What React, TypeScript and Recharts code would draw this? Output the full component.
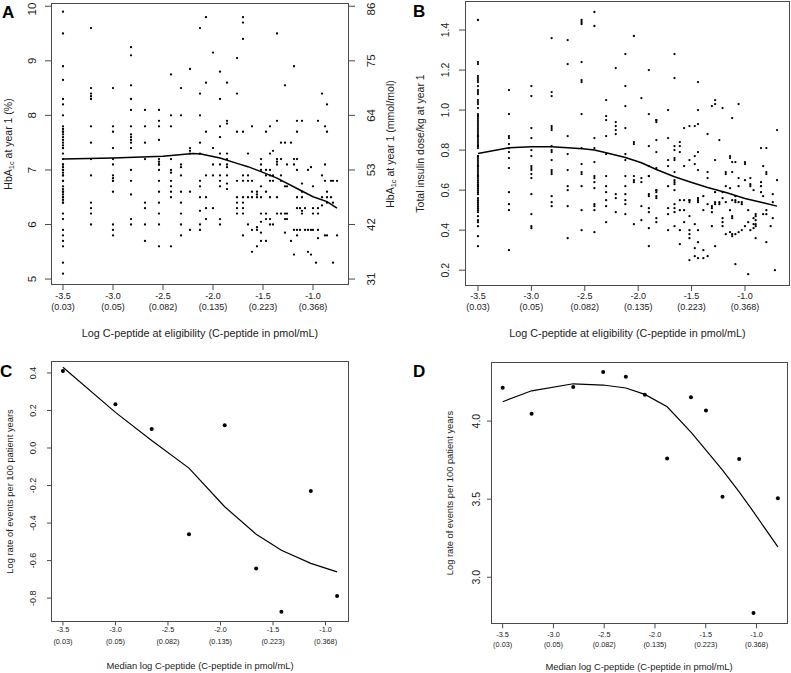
import React from 'react';
import { ComposedChart, Scatter, Line, XAxis, YAxis, Label } from 'recharts';

const FONT = '"Liberation Sans", Arial, Helvetica, sans-serif';
const BOX = '#4a4a4a';
const INK = '#222';

// shared x axis: log C-peptide, with the C-peptide value printed under each tick
const logTicks = [-3.5, -3.0, -2.5, -2.0, -1.5, -1.0];
const cpepLabels = ['0.03', '0.05', '0.082', '0.135', '0.223', '0.368'];

// A: HbA1c at year 1 (%), one list of values per distinct log C-peptide
const hbaX = [-3.5, -3.22, -3.0, -2.82, -2.68, -2.54, -2.42, -2.32, -2.23, -2.13, -2.07, -2.0, -1.93, -1.86, -1.76, -1.7, -1.65, -1.61, -1.56, -1.52, -1.47, -1.43, -1.4, -1.36, -1.32, -1.28, -1.26, -1.22, -1.19, -1.16, -1.13, -1.11, -1.08, -1.05, -1.02, -1.0, -0.97, -0.95, -0.91, -0.88, -0.86, -0.82, -0.8, -0.76];
const hbaY = [
  [9.9, 9.5, 8.9, 8.65, 8.3, 8.2, 8.0, 7.8, 7.75, 7.7, 7.7, 7.65, 7.6, 7.55, 7.5, 7.45, 7.4, 7.4, 7.3, 7.2, 7.1, 7.1, 7.05, 7.0, 7.0, 6.95, 6.9, 6.9, 6.8, 6.8, 6.7, 6.65, 6.6, 6.6, 6.55, 6.5, 6.5, 6.45, 6.4, 6.4, 6.2, 6.1, 5.9, 5.8, 5.7, 5.6, 5.3, 5.1],
  [9.6, 8.5, 8.4, 8.35, 8.3, 7.8, 7.5, 7.2, 6.9, 6.4, 6.3, 6.2, 6.0],
  [8.5, 7.8, 7.7, 7.4, 7.2, 7.1, 6.9, 6.85, 6.8, 6.8, 6.6, 6.0, 5.9, 5.8],
  [9.25, 9.1, 8.55, 8.3, 8.1, 7.8, 7.65, 7.6, 7.55, 7.5, 7.4, 7.0, 6.8, 6.55, 6.1, 6.0],
  [8.1, 7.8, 7.5, 7.2, 6.4, 6.3, 6.0, 5.7],
  [8.1, 7.9, 7.8, 7.55, 7.2, 7.15, 7.1, 7.1, 7.0, 6.8, 6.6, 6.4, 6.2, 6.0, 5.6],
  [8.75, 8.0, 7.8, 7.2, 7.0, 6.95, 6.8, 6.7, 6.6, 6.5, 5.6],
  [8.5, 8.0, 7.1, 7.05, 6.9, 6.6, 6.4, 6.2, 6.0, 5.8],
  [8.85, 7.4, 7.35, 7.3, 6.6, 5.9],
  [9.6, 8.4, 8.0, 7.5, 7.3, 6.8, 6.7, 6.5, 6.25, 6.0, 5.9],
  [9.8, 8.6, 7.7, 6.9, 6.5, 6.3, 6.1],
  [9.15, 7.4, 7.1, 6.9, 6.3],
  [8.8, 8.3, 7.8, 7.6, 7.3, 7.1, 6.9, 6.8, 6.7, 6.1, 6.0],
  [8.6, 7.9, 7.85, 7.3, 7.2, 7.1, 7.05, 6.9, 6.75, 6.65],
  [9.05, 8.4, 7.7, 6.8, 6.5, 6.4, 6.3, 6.2],
  [9.8, 9.7, 9.4, 7.7, 6.9, 6.8, 6.5, 6.4, 6.3, 6.2, 5.8],
  [7.3, 6.9, 6.8, 6.5, 6.0],
  [7.8, 6.8, 6.6, 6.5, 5.9, 5.5],
  [6.6, 6.55, 6.5, 5.95, 5.9, 5.6],
  [7.2, 7.1, 7.0, 6.7, 6.5, 6.2, 6.05, 5.85, 5.7],
  [7.7, 7.0, 6.9, 6.6, 6.2, 6.1, 5.7],
  [7.8, 7.3, 7.0, 6.9, 6.8, 6.5, 6.1, 6.0],
  [7.35, 6.9, 6.8, 6.0],
  [9.5, 7.9, 7.2, 7.15, 7.1, 6.5, 6.2],
  [7.5, 7.2, 6.9, 6.8, 6.2],
  [8.55, 7.5, 6.7, 6.2, 6.1, 5.85],
  [7.1, 6.7, 6.2, 6.1],
  [7.5, 5.7],
  [8.9, 7.2, 7.1, 5.9, 5.45],
  [7.9, 7.7, 7.2, 7.0, 6.5, 6.3, 5.9, 5.8],
  [6.3, 5.9],
  [7.9, 6.75, 6.6, 6.5, 6.25, 6.2],
  [6.3, 5.9],
  [7.0, 5.9, 5.5],
  [7.05, 5.9, 5.45],
  [6.7, 6.3, 6.2, 5.9],
  [5.3],
  [7.9, 6.3, 6.2, 5.9, 5.75],
  [8.4, 6.9, 6.5, 6.35],
  [7.8, 7.1, 6.8, 5.8],
  [8.2, 7.7, 6.6, 6.5, 6.4, 5.8],
  [6.8, 6.5],
  [6.8, 6.4, 5.3],
  [6.8, 5.8],
];
const hbaFitX = [-3.5, -3.0, -2.5, -2.2, -2.12, -1.93, -1.76, -1.65, -1.52, -1.36, -1.16, -1.0, -0.86, -0.76];
const hbaFitY = [7.2, 7.22, 7.25, 7.3, 7.29, 7.22, 7.12, 7.06, 6.97, 6.85, 6.66, 6.51, 6.42, 6.3];
const hbaTicks = [5, 6, 7, 8, 9, 10];
const mmolLabels = ['31', '42', '53', '64', '75', '86'];

// B: total insulin dose/kg at year 1
const insX = [-3.5, -3.21, -3.0, -2.81, -2.66, -2.53, -2.41, -2.3, -2.21, -2.12, -2.04, -1.97, -1.9, -1.83, -1.72, -1.66, -1.61, -1.57, -1.52, -1.47, -1.44, -1.39, -1.35, -1.31, -1.28, -1.24, -1.21, -1.18, -1.14, -1.12, -1.09, -1.06, -1.03, -1.0, -0.97, -0.95, -0.92, -0.9, -0.85, -0.83, -0.8, -0.76, -0.74, -0.72, -0.7];
const insY = [
  [1.45, 1.24, 1.23, 1.17, 1.16, 1.15, 1.14, 1.12, 1.1, 1.09, 1.08, 1.05, 1.04, 1.03, 1.01, 0.98, 0.97, 0.97, 0.96, 0.95, 0.94, 0.93, 0.92, 0.91, 0.9, 0.89, 0.88, 0.87, 0.87, 0.86, 0.85, 0.84, 0.83, 0.82, 0.82, 0.81, 0.77, 0.77, 0.76, 0.75, 0.74, 0.73, 0.72, 0.72, 0.71, 0.7, 0.69, 0.68, 0.67, 0.67, 0.66, 0.65, 0.64, 0.63, 0.62, 0.62, 0.61, 0.6, 0.59, 0.58, 0.56, 0.55, 0.54, 0.53, 0.52, 0.51, 0.5, 0.49, 0.47, 0.45, 0.44, 0.42, 0.37, 0.32],
  [1.1, 0.98, 0.87, 0.86, 0.83, 0.81, 0.79, 0.76, 0.71, 0.59, 0.53, 0.5, 0.3],
  [1.12, 1.07, 0.91, 0.86, 0.8, 0.77, 0.72, 0.71, 0.7, 0.68, 0.66, 0.58, 0.48, 0.42, 0.41],
  [1.36, 1.09, 1.07, 0.92, 0.91, 0.9, 0.82, 0.8, 0.79, 0.75, 0.7, 0.69, 0.68, 0.57, 0.54, 0.52],
  [1.35, 1.23, 0.87, 0.78, 0.7, 0.62, 0.6, 0.52, 0.36],
  [1.45, 1.44, 1.43, 1.24, 1.15, 1.14, 0.98, 0.81, 0.73, 0.69, 0.68, 0.62, 0.5, 0.4],
  [1.49, 1.42, 0.86, 0.81, 0.74, 0.67, 0.66, 0.64, 0.61, 0.53, 0.52, 0.5, 0.39],
  [1.05, 0.97, 0.95, 0.87, 0.78, 0.67, 0.62, 0.59, 0.55, 0.52, 0.44],
  [1.21, 0.94, 0.92, 0.9, 0.88, 0.58, 0.56, 0.49],
  [1.28, 1.12, 1.02, 0.91, 0.78, 0.75, 0.67, 0.62, 0.58, 0.55, 0.53, 0.48],
  [1.37, 0.84, 0.83, 0.67, 0.65, 0.64, 0.43],
  [1.06, 0.66, 0.64, 0.52, 0.45],
  [1.2, 0.98, 0.82, 0.72, 0.67, 0.67, 0.58, 0.57, 0.51, 0.49, 0.41, 0.32],
  [0.95, 0.95, 0.94, 0.85, 0.79, 0.71, 0.6, 0.6, 0.59, 0.57, 0.56, 0.46, 0.44],
  [1.0, 0.86, 0.75, 0.72, 0.62, 0.51, 0.48, 0.4],
  [1.28, 1.16, 0.82, 0.8, 0.76, 0.75, 0.69, 0.65, 0.64, 0.63, 0.6, 0.53, 0.51, 0.49, 0.42],
  [0.84, 0.82, 0.79, 0.55, 0.5, 0.4, 0.33],
  [0.91, 0.72, 0.55, 0.5, 0.44],
  [0.92, 0.75, 0.55, 0.55, 0.54, 0.47, 0.4, 0.38, 0.36, 0.25],
  [0.92, 0.77, 0.73, 0.43, 0.31, 0.27],
  [1.14, 1.0, 0.93, 0.79, 0.7, 0.56, 0.55, 0.54, 0.4, 0.34, 0.26],
  [0.57, 0.5, 0.3, 0.26],
  [0.88, 0.69, 0.66, 0.53, 0.27],
  [1.02, 0.52, 0.51, 0.49, 0.42],
  [1.05, 1.03, 0.75, 0.59, 0.54, 0.53, 0.32],
  [0.85, 0.54, 0.53],
  [1.01, 0.59, 0.56, 0.46, 0.44, 0.42],
  [0.69, 0.68, 0.62, 0.54, 0.38],
  [0.77, 0.76, 0.61, 0.5, 0.39],
  [0.96, 0.74, 0.69, 0.55, 0.47, 0.46, 0.38, 0.37],
  [0.74, 0.57, 0.55, 0.54, 0.38, 0.23],
  [1.03, 0.66, 0.62, 0.54, 0.39],
  [0.54, 0.53, 0.4],
  [0.74, 0.73, 0.65, 0.42],
  [0.5, 0.44, 0.18],
  [0.66, 0.63, 0.62, 0.4],
  [0.6, 0.46, 0.43, 0.41],
  [0.48, 0.47, 0.45, 0.43, 0.42, 0.36],
  [0.81, 0.64, 0.62, 0.59],
  [0.72, 0.57, 0.48],
  [0.81, 0.69, 0.68, 0.5, 0.48, 0.34],
  [0.42],
  [0.58, 0.54, 0.46],
  [0.2],
  [0.9, 0.65],
];
const insFitX = [-3.5, -3.21, -3.0, -2.81, -2.66, -2.52, -2.41, -2.3, -2.12, -1.97, -1.83, -1.66, -1.52, -1.35, -1.17, -1.0, -0.83, -0.7];
const insFitY = [0.783, 0.812, 0.817, 0.817, 0.812, 0.807, 0.8, 0.787, 0.763, 0.737, 0.703, 0.667, 0.642, 0.613, 0.587, 0.558, 0.537, 0.52];
const insTicks = [0.2, 0.4, 0.6, 0.8, 1.0, 1.2, 1.4];

// C: log rate of events per 100 patient years by median log C-peptide
const cMedX = [-3.5, -3.0, -2.655, -2.3, -1.96, -1.66, -1.42, -1.14, -0.89];
const cRate = [0.41, 0.233, 0.101, -0.459, 0.121, -0.642, -0.873, -0.229, -0.789];
const cFit = [0.43, 0.19, 0.04, -0.107, -0.313, -0.46, -0.545, -0.615, -0.66];
const cTicks = [-0.8, -0.6, -0.4, -0.2, 0.0, 0.2, 0.4];

// D: same measure, second event type
const dMedX = [-3.5, -3.215, -2.805, -2.51, -2.287, -2.1, -1.88, -1.646, -1.498, -1.335, -1.171, -1.03, -0.79];
const dRate = [4.213, 4.047, 4.218, 4.314, 4.284, 4.169, 3.761, 4.152, 4.068, 3.515, 3.758, 2.771, 3.506];
const dFit = [4.124, 4.194, 4.239, 4.231, 4.212, 4.171, 4.092, 3.93, 3.814, 3.686, 3.547, 3.419, 3.194];
const dTicks = [3.0, 3.5, 4.0];

const toPoints = (xs: number[], ys: number[][]) => xs.flatMap((x, i) => ys[i].map((y) => ({ x, y })));
const toLine = (xs: number[], ys: number[]) => xs.map((x, i) => ({ x, y: ys[i] }));

const dot = (r: number) => (props: any) => <circle cx={props.cx} cy={props.cy} r={r} fill="#000" />;

// two-line tick: log value, then C-peptide in brackets
const xTick = (base: number, gap: number, fs: number) => (props: any) => {
  const { x, payload } = props;
  const i = logTicks.indexOf(payload.value);
  return (
    <text textAnchor="middle" fontSize={fs} fontFamily={FONT} fill={INK}>
      <tspan x={x} y={base}>{payload.value.toFixed(1)}</tspan>
      <tspan x={x} y={base + gap}>({cpepLabels[i]})</tspan>
    </text>
  );
};

// R style y labels, turned to read upwards
const yTick = (cx: number, fs: number, fmt: (v: number) => string) => (props: any) => {
  const { y, payload } = props;
  return (
    <text x={cx} y={y} transform={`rotate(-90 ${cx} ${y})`} textAnchor="middle" dominantBaseline="central" fontSize={fs} fontFamily={FONT} fill={INK}>
      {fmt(payload.value)}
    </text>
  );
};

const Title = ({ x, y, fs, vertical, children }: any) => (
  <text x={x} y={y} transform={vertical ? `rotate(-90 ${x} ${y})` : undefined} textAnchor="middle" dominantBaseline="central" fontSize={fs} fontFamily={FONT} fill={INK}>
    {children}
  </text>
);

const HbA = ({ tail }: { tail: string }) => (
  <>
    HbA<tspan fontSize={7.5} dy={2.5}>1c</tspan>
    <tspan dy={-2.5}>{tail}</tspan>
  </>
);

const fixed = (d: number) => (v: number) => v.toFixed(d);

// R's bty="o" box round each plot area
const Box = ({ left, top, width, height }: { left: number; top: number; width: number; height: number }) => (
  <div style={{ position: 'absolute', left: left - 0.75, top: top - 0.75, width: width + 1.5, height: height + 1.5, border: `1.5px solid ${BOX}`, boxSizing: 'border-box', pointerEvents: 'none' }} />
);

function PanelA() {
  const xDom: [number, number] = [-3.61, -0.65];
  const yDom: [number, number] = [4.91, 10.05];
  return (
    <ComposedChart width={400} height={345} margin={{ top: 3.5, right: 0, bottom: 0, left: 0 }}>
      <XAxis dataKey="x" type="number" domain={xDom} ticks={logTicks} height={61} axisLine={false} tickSize={6} tickLine={{ stroke: BOX }} tick={xTick(299, 10.6, 9)}>
        <Label content={() => <Title x={200} y={333} fs={10.8}>Log C-peptide at eligibility (C-peptide in pmol/mL)</Title>} />
      </XAxis>
      <YAxis yAxisId="l" type="number" domain={yDom} ticks={hbaTicks} width={52} axisLine={false} tickSize={7} tickLine={{ stroke: BOX }} tick={yTick(32, 11.5, fixed(0))}>
        <Label content={() => <Title x={8} y={144} fs={10.5} vertical><HbA tail=" at year 1 (%)" /></Title>} />
      </YAxis>
      <YAxis yAxisId="r" orientation="right" type="number" domain={yDom} allowDataOverflow ticks={hbaTicks} width={52} axisLine={false} tickSize={7} tickLine={{ stroke: BOX }}
        tick={yTick(371, 11.5, (v) => mmolLabels[hbaTicks.indexOf(v)])}>
        <Label content={() => <Title x={390} y={144} fs={10.5} vertical><HbA tail=" at year 1 (mmol/mol)" /></Title>} />
      </YAxis>
      <Scatter yAxisId="l" data={toPoints(hbaX, hbaY)} dataKey="y" shape={dot(1.15)} isAnimationActive={false} />
      <Line yAxisId="l" data={toLine(hbaFitX, hbaFitY)} dataKey="y" type="linear" stroke="#000" strokeWidth={1.5} dot={false} activeDot={false} isAnimationActive={false} />
    </ComposedChart>
  );
}

function PanelB() {
  const xDom: [number, number] = [-3.612, -0.588];
  const yDom: [number, number] = [0.126, 1.54];
  return (
    <ComposedChart width={391} height={345} margin={{ top: 2, right: 2, bottom: 0, left: 0 }}>
      <XAxis dataKey="x" type="number" domain={xDom} ticks={logTicks} height={60} axisLine={false} tickSize={6} tickLine={{ stroke: BOX }} tick={xTick(299, 10.6, 9)}>
        <Label content={() => <Title x={227.5} y={333} fs={10.8}>Log C-peptide at eligibility (C-peptide in pmol/mL)</Title>} />
      </XAxis>
      <YAxis yAxisId="l" type="number" domain={yDom} ticks={insTicks} width={66} axisLine={false} tickSize={7} tickLine={{ stroke: BOX }} tick={yTick(45, 10.5, fixed(1))}>
        <Label content={() => <Title x={20} y={143.5} fs={10.5} vertical>Total insulin dose/kg at year 1</Title>} />
      </YAxis>
      <Scatter yAxisId="l" data={toPoints(insX, insY)} dataKey="y" shape={dot(1.15)} isAnimationActive={false} />
      <Line yAxisId="l" data={toLine(insFitX, insFitY)} dataKey="y" type="linear" stroke="#000" strokeWidth={1.5} dot={false} activeDot={false} isAnimationActive={false} />
    </ComposedChart>
  );
}

function PanelC() {
  const xDom: [number, number] = [-3.604, -0.786];
  const yDom: [number, number] = [-0.924, 0.461];
  return (
    <ComposedChart width={400} height={328} margin={{ top: 16.5, right: 52, bottom: 0, left: 0 }}>
      <XAxis dataKey="x" type="number" domain={xDom} ticks={logTicks} height={51.6} axisLine={false} tickSize={4} tickLine={{ stroke: BOX }} tick={xTick(287, 11.7, 7.3)}>
        <Label content={() => <Title x={200} y={320} fs={9.4}>Median log C-peptide (C-peptide in pmol/mL)</Title>} />
      </XAxis>
      <YAxis yAxisId="l" type="number" domain={yDom} ticks={cTicks} width={52} axisLine={false} tickSize={5} tickLine={{ stroke: BOX }} tick={yTick(33, 9, fixed(1))}>
        <Label content={() => <Title x={10} y={146.5} fs={9.3} vertical>Log rate of events per 100 patient years</Title>} />
      </YAxis>
      <Scatter yAxisId="l" data={toLine(cMedX, cRate)} dataKey="y" shape={dot(2)} isAnimationActive={false} />
      <Line yAxisId="l" data={toLine(cMedX, cFit)} dataKey="y" type="linear" stroke="#000" strokeWidth={1.2} dot={false} activeDot={false} isAnimationActive={false} />
    </ComposedChart>
  );
}

function PanelD() {
  const xDom: [number, number] = [-3.605, -0.7];
  const yDom: [number, number] = [2.705, 4.374];
  return (
    <ComposedChart width={391} height={328} margin={{ top: 17.7, right: 4, bottom: 0, left: 0 }}>
      <XAxis dataKey="x" type="number" domain={xDom} ticks={logTicks} height={49.7} axisLine={false} tickSize={5} tickLine={{ stroke: BOX }} tick={xTick(291.6, 10, 7.3)}>
        <Label content={() => <Title x={239} y={321} fs={9.4}>Median log C-peptide (C-peptide in pmol/mL)</Title>} />
      </XAxis>
      <YAxis yAxisId="l" type="number" domain={yDom} ticks={dTicks} width={92} axisLine={false} tickSize={5} tickLine={{ stroke: BOX }} tick={yTick(76, 10.5, fixed(1))}>
        <Label content={() => <Title x={50} y={148} fs={9.3} vertical>Log rate of events per 100 patient years</Title>} />
      </YAxis>
      <Scatter yAxisId="l" data={toLine(dMedX, dRate)} dataKey="y" shape={dot(2)} isAnimationActive={false} />
      <Line yAxisId="l" data={toLine(dMedX, dFit)} dataKey="y" type="linear" stroke="#000" strokeWidth={1.2} dot={false} activeDot={false} isAnimationActive={false} />
    </ComposedChart>
  );
}

const letter = { fontFamily: FONT, fontWeight: 700, fontSize: 17, fill: '#000' };

export default function App() {
  return (
    <div style={{ position: 'absolute', left: 0, top: 0, width: 791, height: 673, background: '#fff', overflow: 'hidden' }}>
      <div style={{ position: 'absolute', left: 0, top: 0 }}><PanelA /></div>
      <div style={{ position: 'absolute', left: 400, top: 0 }}><PanelB /></div>
      <div style={{ position: 'absolute', left: 0, top: 345 }}><PanelC /></div>
      <div style={{ position: 'absolute', left: 400, top: 345 }}><PanelD /></div>
      <Box left={52} top={3.5} width={296} height={280.5} />
      <Box left={466} top={2} width={323} height={283} />
      <Box left={52} top={361.5} width={296} height={259.9} />
      <Box left={492} top={362.7} width={295} height={260.6} />
      <svg width={791} height={673} style={{ position: 'absolute', left: 0, top: 0, pointerEvents: 'none' }}>
        <text x={2} y={18.3} {...letter}>A</text>
        <text x={413} y={17} {...letter}>B</text>
        <text x={0} y={377} {...letter}>C</text>
        <text x={413} y={377} {...letter}>D</text>
      </svg>
    </div>
  );
}
